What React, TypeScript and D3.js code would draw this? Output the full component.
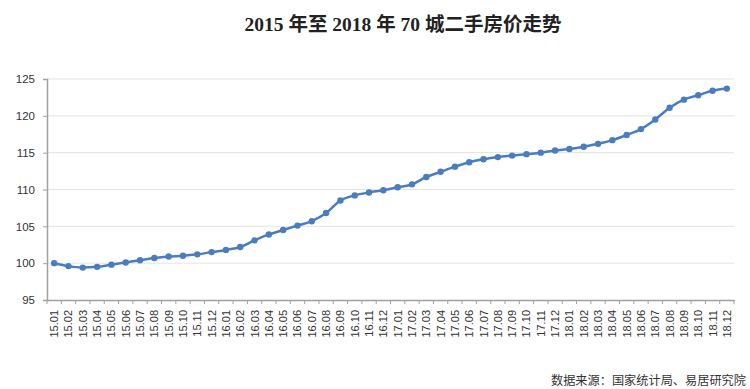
import { useEffect, useRef } from 'react';
import * as d3 from 'd3';

const years = ['15', '16', '17', '18'];
const months = ['01', '02', '03', '04', '05', '06', '07', '08', '09', '10', '11', '12'];
const categories = years.flatMap(y => months.map(m => `${y}.${m}`));

const values = [
  100.0, 99.6, 99.4, 99.5, 99.8, 100.1, 100.4, 100.7, 100.9, 101.0, 101.2, 101.5,
  101.8, 102.2, 103.1, 103.9, 104.5, 105.1, 105.7, 106.8, 108.5, 109.2, 109.6, 109.9,
  110.3, 110.7, 111.7, 112.4, 113.1, 113.7, 114.1, 114.4, 114.6, 114.8, 115.0, 115.3,
  115.5, 115.8, 116.2, 116.7, 117.4, 118.2, 119.5, 121.1, 122.2, 122.8, 123.4, 123.7
];

const yTicks = [95, 100, 105, 110, 115, 120, 125];

function App() {
  const ref = useRef<SVGSVGElement>(null);

  useEffect(() => {
    const width = 750;
    const height = 389;
    const left = 47, right = 734, top = 79, bottom = 300;
    const svg = d3.select(ref.current);
    svg.selectAll('*').remove();

    const x = d3.scaleBand().domain(categories).range([left, right]);
    const y = d3.scaleLinear().domain([95, 125]).range([bottom, top]);

    svg.append('text')
      .attr('x', 403)
      .attr('y', 31)
      .attr('text-anchor', 'middle')
      .attr('font-family', '"Liberation Serif", "Noto Sans CJK SC", serif')
      .attr('font-weight', 'bold')
      .attr('font-size', 19.5)
      .attr('fill', '#222')
      .text('2015 年至 2018 年 70 城二手房价走势');

    // grid
    svg.append('g')
      .selectAll('line')
      .data(yTicks.slice(1))
      .join('line')
      .attr('x1', left)
      .attr('x2', right)
      .attr('y1', d => y(d))
      .attr('y2', d => y(d))
      .attr('stroke', '#e3e3e3')
      .attr('stroke-width', 1);

    const yAxis = svg.append('g')
      .attr('transform', `translate(${left},0)`)
      .call(d3.axisLeft(y).tickValues(yTicks).tickSize(4).tickPadding(8));
    yAxis.select('.domain').attr('stroke', '#a0a0a0').attr('stroke-width', 1.5);
    yAxis.selectAll('.tick line').attr('stroke', '#a0a0a0');
    yAxis.selectAll('text')
      .attr('font-family', '"Liberation Sans", sans-serif')
      .attr('font-size', 11.5)
      .attr('fill', '#333');

    const xAxis = svg.append('g')
      .attr('transform', `translate(0,${bottom})`)
      .call(d3.axisBottom(x).tickSize(0).tickSizeOuter(0).tickPadding(0));
    xAxis.select('.domain').attr('stroke', '#a0a0a0').attr('stroke-width', 1.5);
    xAxis.selectAll('.tick text')
      .attr('font-family', '"Liberation Sans", sans-serif')
      .attr('font-size', 11)
      .attr('fill', '#333')
      .attr('text-anchor', 'end')
      .attr('transform', 'rotate(-90)')
      .attr('x', -10)
      .attr('y', 0)
      .attr('dy', '0.36em');

    // boundary ticks
    const bounds = categories.map(c => x(c) as number).concat([right]);
    svg.append('g')
      .selectAll('line')
      .data(bounds)
      .join('line')
      .attr('x1', d => d)
      .attr('x2', d => d)
      .attr('y1', bottom)
      .attr('y2', bottom + 4)
      .attr('stroke', '#a0a0a0');

    const cx = (c: string) => (x(c) as number) + x.bandwidth() / 2;
    const line = d3.line<number>()
      .x((_, i) => cx(categories[i]))
      .y(d => y(d))
      .curve(d3.curveMonotoneX);

    svg.append('path')
      .datum(values)
      .attr('d', line)
      .attr('fill', 'none')
      .attr('stroke', '#4a7dc0')
      .attr('stroke-width', 2.5);

    svg.append('g')
      .selectAll('circle')
      .data(values)
      .join('circle')
      .attr('cx', (_, i) => cx(categories[i]))
      .attr('cy', d => y(d))
      .attr('r', 3.2)
      .attr('fill', '#4a7dc0');

    svg.append('text')
      .attr('x', 746)
      .attr('y', 385)
      .attr('text-anchor', 'end')
      .attr('font-family', '"Noto Sans CJK SC", sans-serif')
      .attr('font-size', 12.2)
      .attr('fill', '#333')
      .text('数据来源：国家统计局、易居研究院');

    svg.attr('viewBox', `0 0 ${width} ${height}`);
  }, []);

  return (
    <svg
      ref={ref}
      width={750}
      height={389}
      style={{ position: 'absolute', left: 0, top: 0, background: '#fff' }}
    />
  );
}

export default App;
